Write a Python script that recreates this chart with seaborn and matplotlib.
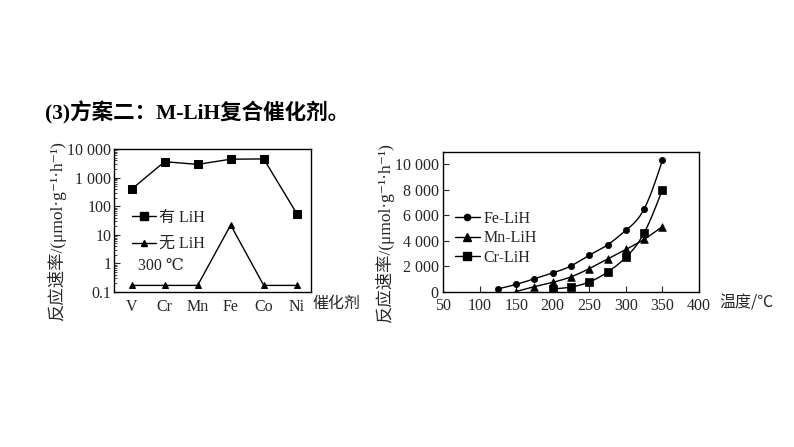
import numpy as np
import pandas as pd
import seaborn as sns
import matplotlib
matplotlib.use("Agg")
import matplotlib.pyplot as plt
from matplotlib.lines import Line2D
from matplotlib.ticker import FixedLocator, LogLocator, NullFormatter

# ---------------- data ----------------
catalysts = ["V", "Cr", "Mn", "Fe", "Co", "Ni"]
rate_with_lih = [390, 3600, 2900, 4400, 4500, 55]
rate_without_lih = [0.17, 0.17, 0.17, 22, 0.17, 0.17]
left_ytick_vals = [0.1, 1, 10, 100, 1000, 10000]
left_ytick_labels = ["0.1", "1", "10", "100", "1 000", "10 000"]

temp_fe = [125, 150, 175, 200, 225, 250, 275, 300, 325, 350]
rate_fe = [200, 560, 1000, 1460, 2010, 2850, 3660, 4800, 6480, 10300]
temp_mn = [150, 175, 200, 225, 250, 275, 300, 325, 350]
rate_mn = [0, 380, 720, 1150, 1800, 2550, 3300, 4100, 5100]
temp_cr = [200, 225, 250, 275, 300, 325, 350]
rate_cr = [200, 350, 750, 1520, 2680, 4600, 8000]
right_xticks = [50, 100, 150, 200, 250, 300, 350, 400]
right_yticks = [0, 2000, 4000, 6000, 8000, 10000]
right_ytick_labels = ["0", "2 000", "4 000", "6 000", "8 000", "10 000"]

# ---------------- style ----------------
sns.set_theme(style="ticks")
SERIF = ["Liberation Serif", "DejaVu Serif", "Noto Sans CJK SC"]
CJK = ["Noto Sans CJK SC", "Liberation Serif", "DejaVu Serif"]
plt.rcParams["font.family"] = SERIF
plt.rcParams["axes.unicode_minus"] = False
plt.rcParams["xtick.direction"] = "in"
plt.rcParams["ytick.direction"] = "in"

fig = plt.figure(figsize=(7.94, 4.47), dpi=100)
W, H = 794, 447
TICK_FS = 11.5


def px_axes(x0, y0, x1, y1):
    return fig.add_axes([x0 / W, 1 - y1 / H, (x1 - x0) / W, (y1 - y0) / H])


def natural_spline(x, y, n=200):
    x = np.asarray(x, float)
    y = np.asarray(y, float)
    k = len(x)
    h = np.diff(x)
    A = np.zeros((k, k))
    b = np.zeros(k)
    A[0, 0] = 1
    A[-1, -1] = 1
    for i in range(1, k - 1):
        A[i, i - 1] = h[i - 1]
        A[i, i] = 2 * (h[i - 1] + h[i])
        A[i, i + 1] = h[i]
        b[i] = 6 * ((y[i + 1] - y[i]) / h[i] - (y[i] - y[i - 1]) / h[i - 1])
    M = np.linalg.solve(A, b)
    xs = np.linspace(x[0], x[-1], n)
    idx = np.clip(np.searchsorted(x, xs) - 1, 0, k - 2)
    xi, xi1 = x[idx], x[idx + 1]
    hi = xi1 - xi
    t1 = xi1 - xs
    t2 = xs - xi
    ys = (M[idx] * t1 ** 3 / (6 * hi) + M[idx + 1] * t2 ** 3 / (6 * hi)
          + (y[idx] / hi - M[idx] * hi / 6) * t1
          + (y[idx + 1] / hi - M[idx + 1] * hi / 6) * t2)
    return xs, ys


# ---------------- title ----------------
fig.text(45 / W, 1 - 113 / H, "(3)方案二：M-LiH复合催化剂。", fontsize=15.5,
         fontweight="bold", family=["Liberation Serif", "Noto Sans CJK SC"],
         va="center", ha="left", color="black")

# ---------------- left chart ----------------
ax1 = px_axes(114, 149, 311, 292)
df_left = pd.DataFrame({"pos": np.arange(len(catalysts)),
                        "with": rate_with_lih, "without": rate_without_lih})
sns.lineplot(data=df_left, x="pos", y="with", ax=ax1, color="black", lw=1.0,
             marker="s", markersize=5.5, markeredgecolor="black")
sns.lineplot(data=df_left, x="pos", y="without", ax=ax1, color="black", lw=1.0,
             marker="^", markersize=5, markeredgecolor="black")
ax1.set_yscale("log")
ax1.set_ylim(0.1, 10000)
ax1.set_xlim(-0.53, 5.43)
ax1.yaxis.set_major_locator(FixedLocator(left_ytick_vals))
ax1.set_yticklabels(left_ytick_labels)
ax1.yaxis.set_minor_locator(LogLocator(base=10, subs=np.arange(2, 10), numticks=20))
ax1.yaxis.set_minor_formatter(NullFormatter())
ax1.set_xticks(np.arange(len(catalysts)))
ax1.set_xticklabels(catalysts)
ax1.tick_params(axis="x", length=0, labelsize=TICK_FS, pad=5)
ax1.tick_params(axis="y", which="major", length=4, width=0.8, labelsize=TICK_FS, pad=2)
ax1.tick_params(axis="y", which="minor", length=2.5, width=0.6)
ax1.set_xlabel("")
ax1.set_ylabel("")
for s in ax1.spines.values():
    s.set_linewidth(1.0)
    s.set_color("black")

h1 = [Line2D([], [], color="black", lw=1.0, marker="s", markersize=5.5),
      Line2D([], [], color="black", lw=1.0, marker="^", markersize=5)]
ax1.legend(h1, ["有 LiH", "无 LiH"], loc="upper left",
           bbox_to_anchor=(0.06, 0.62), frameon=False, handlelength=1.5,
           handletextpad=0.2, labelspacing=0.65, borderaxespad=0,
           prop={"family": ["Liberation Serif", "Noto Sans CJK SC"], "size": 11.5})
ax1.text(0.12, 0.18, "300 ℃", transform=ax1.transAxes, fontsize=11.5,
         family=["Liberation Serif", "DejaVu Serif"], va="center", ha="left")

fig.text(313 / W, 1 - 303 / H, "催化剂", fontsize=11.5, family=CJK,
         va="center", ha="left")
fig.text(57 / W, 1 - 231 / H, "反应速率/(μmol·g⁻¹·h⁻¹)", rotation=90,
         fontsize=12.5, family=SERIF[:1] + ["Noto Sans CJK SC", "DejaVu Serif"],
         va="center", ha="center")

# ---------------- right chart ----------------
ax2 = px_axes(443, 152, 699, 291.5)
series = [("Fe-LiH", temp_fe, rate_fe, "o", 4.5),
          ("Mn-LiH", temp_mn, rate_mn, "^", 5.5),
          ("Cr-LiH", temp_cr, rate_cr, "s", 5.5)]
handles2 = []
for name, xs, ys, mk, ms in series:
    sx, sy = natural_spline(xs, ys)
    ax2.plot(sx, sy, color="black", lw=1.0)
    sns.scatterplot(x=xs, y=ys, ax=ax2, color="black", marker=mk,
                    s=ms ** 2, edgecolor="black", linewidth=0.5, zorder=3)
    handles2.append(Line2D([], [], color="black", lw=1.0, marker=mk, markersize=ms))
ax2.set_xlim(50, 400)
ax2.set_ylim(0, 10950)
ax2.set_xticks(right_xticks)
ax2.set_xticklabels([str(v) for v in right_xticks])
ax2.set_yticks(right_yticks)
ax2.set_yticklabels(right_ytick_labels)
ax2.tick_params(axis="both", length=4, width=0.8, labelsize=TICK_FS)
ax2.tick_params(axis="x", pad=5)
ax2.tick_params(axis="y", pad=3)
for s in ax2.spines.values():
    s.set_linewidth(1.0)
    s.set_color("black")
ax2.legend(handles2, ["Fe-LiH", "Mn-LiH", "Cr-LiH"], loc="upper left",
           bbox_to_anchor=(0.02, 0.625), frameon=False, handlelength=1.6,
           handletextpad=0.2, labelspacing=0.22, borderaxespad=0,
           prop={"family": ["Liberation Serif"], "size": 11.5})

fig.text(719 / W, 1 - 303 / H, "温度/℃", fontsize=11.5,
         family=["Noto Sans CJK SC", "Liberation Serif"], va="center", ha="left")
fig.text(385 / W, 1 - 233 / H, "反应速率/(μmol·g⁻¹·h⁻¹)", rotation=90,
         fontsize=12.5, family=SERIF[:1] + ["Noto Sans CJK SC", "DejaVu Serif"],
         va="center", ha="center")

fig.savefig("out.png", dpi=100, facecolor="white")
